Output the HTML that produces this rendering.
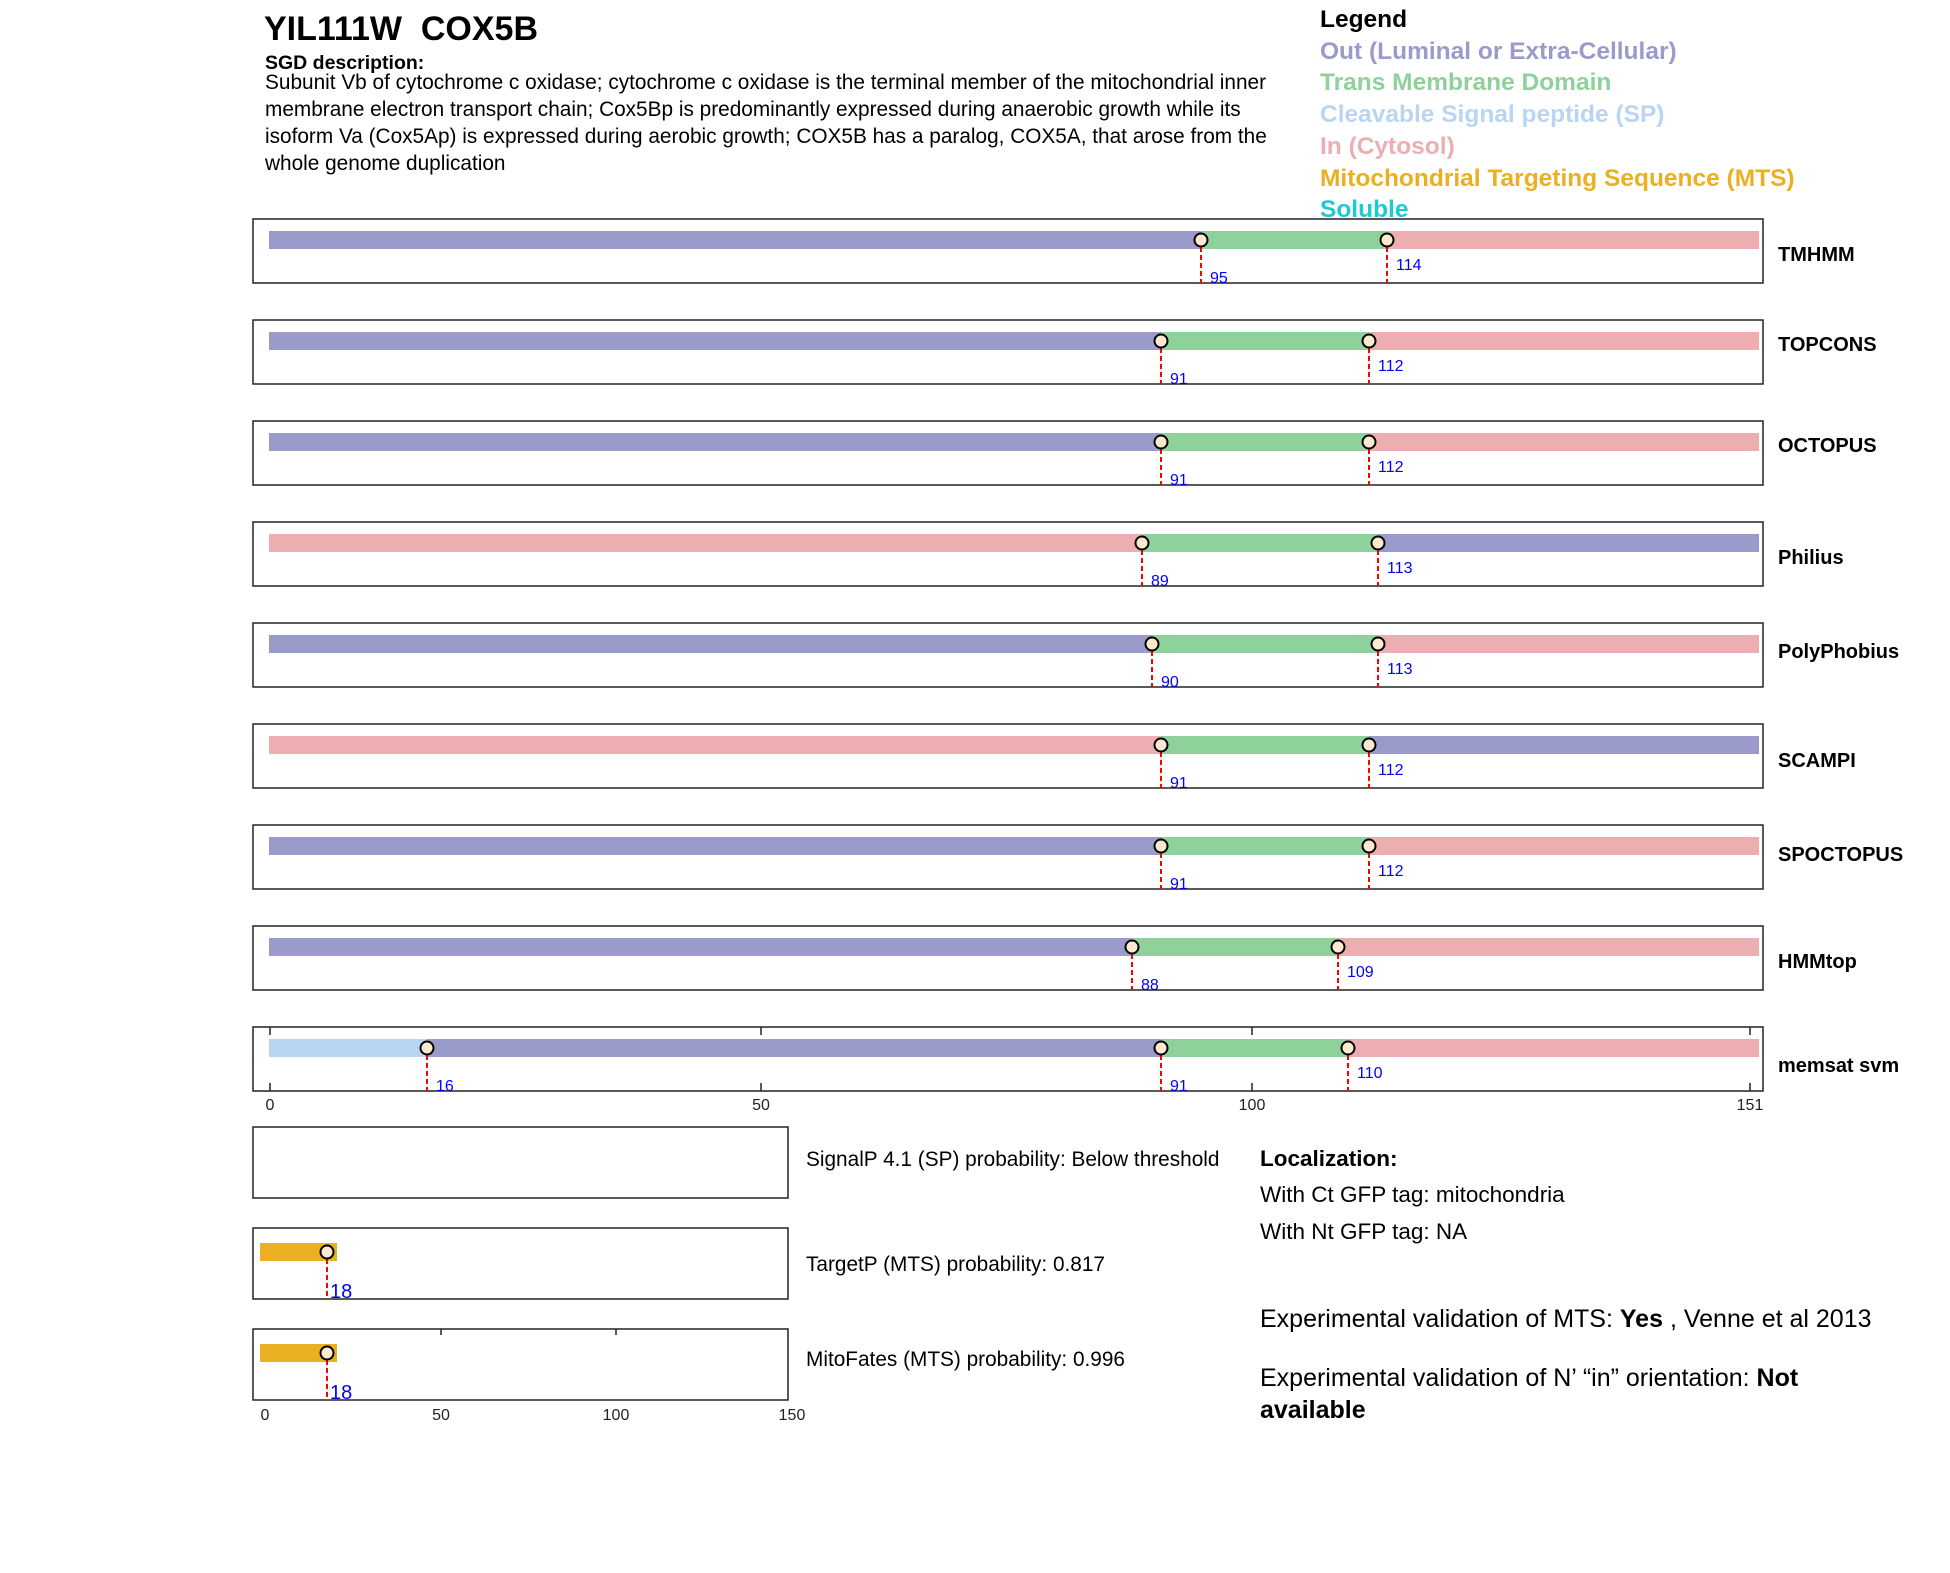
<!DOCTYPE html>
<html><head><meta charset="utf-8"><style>
html,body{margin:0;padding:0;background:#fff;}
svg{display:block;font-family:"Liberation Sans",Arial,sans-serif;}
</style></head><body>
<svg width="1950" height="1573" viewBox="0 0 1950 1573" xmlns="http://www.w3.org/2000/svg">
<rect width="1950" height="1573" fill="#fff"/>
<text x="264" y="40" font-size="34" font-weight="bold" style="white-space:pre">YIL111W  COX5B</text>
<text x="265" y="69" font-size="19.5" font-weight="bold">SGD description:</text>
<g font-size="20.8">
<text x="265" y="89">Subunit Vb of cytochrome c oxidase; cytochrome c oxidase is the terminal member of the mitochondrial inner</text>
<text x="265" y="116">membrane electron transport chain; Cox5Bp is predominantly expressed during anaerobic growth while its</text>
<text x="265" y="143">isoform Va (Cox5Ap) is expressed during aerobic growth; COX5B has a paralog, COX5A, that arose from the</text>
<text x="265" y="170">whole genome duplication</text>
</g>
<g font-size="24.5" font-weight="bold">
<text x="1320" y="27" fill="#000">Legend</text>
<text x="1320" y="59" fill="#9b9bcb">Out (Luminal or Extra-Cellular)</text>
<text x="1320" y="90" fill="#8fd19a">Trans Membrane Domain</text>
<text x="1320" y="122" fill="#b9d5f2">Cleavable Signal peptide (SP)</text>
<text x="1320" y="154" fill="#ecaeb0">In (Cytosol)</text>
<text x="1320" y="186" fill="#ebaf22">Mitochondrial Targeting Sequence (MTS)</text>
<text x="1320" y="217" fill="#1ec9d1">Soluble</text>
</g>

<g>
<rect x="253" y="219" width="1510" height="64" fill="none" stroke="#222" stroke-width="1.5"/>
<rect x="269" y="231" width="932" height="18" fill="#9b9bcb"/>
<rect x="1201" y="231" width="186" height="18" fill="#8fd19a"/>
<rect x="1387" y="231" width="372" height="18" fill="#ecaeb0"/>
<line x1="1201" y1="247" x2="1201" y2="283" stroke="red" stroke-width="2" stroke-dasharray="5,3"/>
<line x1="1387" y1="247" x2="1387" y2="283" stroke="red" stroke-width="2" stroke-dasharray="5,3"/>
<circle cx="1201" cy="240" r="6.5" fill="#fde9cf" stroke="#000" stroke-width="2"/>
<circle cx="1387" cy="240" r="6.5" fill="#fde9cf" stroke="#000" stroke-width="2"/>
<text x="1210" y="283" font-size="16" fill="#0000ff">95</text>
<text x="1396" y="270" font-size="16" fill="#0000ff">114</text>
<text x="1778" y="261" font-size="20" font-weight="bold">TMHMM</text>
</g>
<g>
<rect x="253" y="320" width="1510" height="64" fill="none" stroke="#222" stroke-width="1.5"/>
<rect x="269" y="332" width="892" height="18" fill="#9b9bcb"/>
<rect x="1161" y="332" width="208" height="18" fill="#8fd19a"/>
<rect x="1369" y="332" width="390" height="18" fill="#ecaeb0"/>
<line x1="1161" y1="348" x2="1161" y2="384" stroke="red" stroke-width="2" stroke-dasharray="5,3"/>
<line x1="1369" y1="348" x2="1369" y2="384" stroke="red" stroke-width="2" stroke-dasharray="5,3"/>
<circle cx="1161" cy="341" r="6.5" fill="#fde9cf" stroke="#000" stroke-width="2"/>
<circle cx="1369" cy="341" r="6.5" fill="#fde9cf" stroke="#000" stroke-width="2"/>
<text x="1170" y="384" font-size="16" fill="#0000ff">91</text>
<text x="1378" y="371" font-size="16" fill="#0000ff">112</text>
<text x="1778" y="351" font-size="20" font-weight="bold">TOPCONS</text>
</g>
<g>
<rect x="253" y="421" width="1510" height="64" fill="none" stroke="#222" stroke-width="1.5"/>
<rect x="269" y="433" width="892" height="18" fill="#9b9bcb"/>
<rect x="1161" y="433" width="208" height="18" fill="#8fd19a"/>
<rect x="1369" y="433" width="390" height="18" fill="#ecaeb0"/>
<line x1="1161" y1="449" x2="1161" y2="485" stroke="red" stroke-width="2" stroke-dasharray="5,3"/>
<line x1="1369" y1="449" x2="1369" y2="485" stroke="red" stroke-width="2" stroke-dasharray="5,3"/>
<circle cx="1161" cy="442" r="6.5" fill="#fde9cf" stroke="#000" stroke-width="2"/>
<circle cx="1369" cy="442" r="6.5" fill="#fde9cf" stroke="#000" stroke-width="2"/>
<text x="1170" y="485" font-size="16" fill="#0000ff">91</text>
<text x="1378" y="472" font-size="16" fill="#0000ff">112</text>
<text x="1778" y="452" font-size="20" font-weight="bold">OCTOPUS</text>
</g>
<g>
<rect x="253" y="522" width="1510" height="64" fill="none" stroke="#222" stroke-width="1.5"/>
<rect x="269" y="534" width="873" height="18" fill="#ecaeb0"/>
<rect x="1142" y="534" width="236" height="18" fill="#8fd19a"/>
<rect x="1378" y="534" width="381" height="18" fill="#9b9bcb"/>
<line x1="1142" y1="550" x2="1142" y2="586" stroke="red" stroke-width="2" stroke-dasharray="5,3"/>
<line x1="1378" y1="550" x2="1378" y2="586" stroke="red" stroke-width="2" stroke-dasharray="5,3"/>
<circle cx="1142" cy="543" r="6.5" fill="#fde9cf" stroke="#000" stroke-width="2"/>
<circle cx="1378" cy="543" r="6.5" fill="#fde9cf" stroke="#000" stroke-width="2"/>
<text x="1151" y="586" font-size="16" fill="#0000ff">89</text>
<text x="1387" y="573" font-size="16" fill="#0000ff">113</text>
<text x="1778" y="564" font-size="20" font-weight="bold">Philius</text>
</g>
<g>
<rect x="253" y="623" width="1510" height="64" fill="none" stroke="#222" stroke-width="1.5"/>
<rect x="269" y="635" width="883" height="18" fill="#9b9bcb"/>
<rect x="1152" y="635" width="226" height="18" fill="#8fd19a"/>
<rect x="1378" y="635" width="381" height="18" fill="#ecaeb0"/>
<line x1="1152" y1="651" x2="1152" y2="687" stroke="red" stroke-width="2" stroke-dasharray="5,3"/>
<line x1="1378" y1="651" x2="1378" y2="687" stroke="red" stroke-width="2" stroke-dasharray="5,3"/>
<circle cx="1152" cy="644" r="6.5" fill="#fde9cf" stroke="#000" stroke-width="2"/>
<circle cx="1378" cy="644" r="6.5" fill="#fde9cf" stroke="#000" stroke-width="2"/>
<text x="1161" y="687" font-size="16" fill="#0000ff">90</text>
<text x="1387" y="674" font-size="16" fill="#0000ff">113</text>
<text x="1778" y="658" font-size="20" font-weight="bold">PolyPhobius</text>
</g>
<g>
<rect x="253" y="724" width="1510" height="64" fill="none" stroke="#222" stroke-width="1.5"/>
<rect x="269" y="736" width="892" height="18" fill="#ecaeb0"/>
<rect x="1161" y="736" width="208" height="18" fill="#8fd19a"/>
<rect x="1369" y="736" width="390" height="18" fill="#9b9bcb"/>
<line x1="1161" y1="752" x2="1161" y2="788" stroke="red" stroke-width="2" stroke-dasharray="5,3"/>
<line x1="1369" y1="752" x2="1369" y2="788" stroke="red" stroke-width="2" stroke-dasharray="5,3"/>
<circle cx="1161" cy="745" r="6.5" fill="#fde9cf" stroke="#000" stroke-width="2"/>
<circle cx="1369" cy="745" r="6.5" fill="#fde9cf" stroke="#000" stroke-width="2"/>
<text x="1170" y="788" font-size="16" fill="#0000ff">91</text>
<text x="1378" y="775" font-size="16" fill="#0000ff">112</text>
<text x="1778" y="767" font-size="20" font-weight="bold">SCAMPI</text>
</g>
<g>
<rect x="253" y="825" width="1510" height="64" fill="none" stroke="#222" stroke-width="1.5"/>
<rect x="269" y="837" width="892" height="18" fill="#9b9bcb"/>
<rect x="1161" y="837" width="208" height="18" fill="#8fd19a"/>
<rect x="1369" y="837" width="390" height="18" fill="#ecaeb0"/>
<line x1="1161" y1="853" x2="1161" y2="889" stroke="red" stroke-width="2" stroke-dasharray="5,3"/>
<line x1="1369" y1="853" x2="1369" y2="889" stroke="red" stroke-width="2" stroke-dasharray="5,3"/>
<circle cx="1161" cy="846" r="6.5" fill="#fde9cf" stroke="#000" stroke-width="2"/>
<circle cx="1369" cy="846" r="6.5" fill="#fde9cf" stroke="#000" stroke-width="2"/>
<text x="1170" y="889" font-size="16" fill="#0000ff">91</text>
<text x="1378" y="876" font-size="16" fill="#0000ff">112</text>
<text x="1778" y="861" font-size="20" font-weight="bold">SPOCTOPUS</text>
</g>
<g>
<rect x="253" y="926" width="1510" height="64" fill="none" stroke="#222" stroke-width="1.5"/>
<rect x="269" y="938" width="863" height="18" fill="#9b9bcb"/>
<rect x="1132" y="938" width="206" height="18" fill="#8fd19a"/>
<rect x="1338" y="938" width="421" height="18" fill="#ecaeb0"/>
<line x1="1132" y1="954" x2="1132" y2="990" stroke="red" stroke-width="2" stroke-dasharray="5,3"/>
<line x1="1338" y1="954" x2="1338" y2="990" stroke="red" stroke-width="2" stroke-dasharray="5,3"/>
<circle cx="1132" cy="947" r="6.5" fill="#fde9cf" stroke="#000" stroke-width="2"/>
<circle cx="1338" cy="947" r="6.5" fill="#fde9cf" stroke="#000" stroke-width="2"/>
<text x="1141" y="990" font-size="16" fill="#0000ff">88</text>
<text x="1347" y="977" font-size="16" fill="#0000ff">109</text>
<text x="1778" y="968" font-size="20" font-weight="bold">HMMtop</text>
</g>
<g>
<rect x="253" y="1027" width="1510" height="64" fill="none" stroke="#222" stroke-width="1.5"/>
<rect x="269" y="1039" width="158" height="18" fill="#b9d5f2"/>
<rect x="427" y="1039" width="734" height="18" fill="#9b9bcb"/>
<rect x="1161" y="1039" width="187" height="18" fill="#8fd19a"/>
<rect x="1348" y="1039" width="411" height="18" fill="#ecaeb0"/>
<g stroke="#222" stroke-width="1.5">
<line x1="270" y1="1027" x2="270" y2="1035"/><line x1="270" y1="1091" x2="270" y2="1083"/>
<line x1="761" y1="1027" x2="761" y2="1035"/><line x1="761" y1="1091" x2="761" y2="1083"/>
<line x1="1252" y1="1027" x2="1252" y2="1035"/><line x1="1252" y1="1091" x2="1252" y2="1083"/>
<line x1="1750" y1="1027" x2="1750" y2="1035"/><line x1="1750" y1="1091" x2="1750" y2="1083"/>
</g>
<line x1="427" y1="1055" x2="427" y2="1091" stroke="red" stroke-width="2" stroke-dasharray="5,3"/>
<line x1="1161" y1="1055" x2="1161" y2="1091" stroke="red" stroke-width="2" stroke-dasharray="5,3"/>
<line x1="1348" y1="1055" x2="1348" y2="1091" stroke="red" stroke-width="2" stroke-dasharray="5,3"/>
<circle cx="427" cy="1048" r="6.5" fill="#fde9cf" stroke="#000" stroke-width="2"/>
<circle cx="1161" cy="1048" r="6.5" fill="#fde9cf" stroke="#000" stroke-width="2"/>
<circle cx="1348" cy="1048" r="6.5" fill="#fde9cf" stroke="#000" stroke-width="2"/>
<text x="436" y="1091" font-size="16" fill="#0000ff">16</text>
<text x="1170" y="1091" font-size="16" fill="#0000ff">91</text>
<text x="1357" y="1078" font-size="16" fill="#0000ff">110</text>
<text x="1778" y="1072" font-size="20" font-weight="bold">memsat svm</text>
<g font-size="16" fill="#222" text-anchor="middle">
<text x="270" y="1110">0</text><text x="761" y="1110">50</text><text x="1252" y="1110">100</text><text x="1750" y="1110">151</text>
</g>
</g>

<rect x="253" y="1127" width="535" height="71" fill="none" stroke="#222" stroke-width="1.5"/>
<text x="806" y="1166" font-size="20.8">SignalP 4.1 (SP) probability: Below threshold</text>

<rect x="253" y="1228" width="535" height="71" fill="none" stroke="#222" stroke-width="1.5"/>
<rect x="260" y="1243" width="77" height="18" fill="#ebaf22"/>
<line x1="327" y1="1259" x2="327" y2="1299" stroke="red" stroke-width="2" stroke-dasharray="5,3"/>
<circle cx="327" cy="1252" r="6.5" fill="#fde9cf" stroke="#000" stroke-width="2"/>
<text x="330" y="1298" font-size="20" fill="#0000ff">18</text>
<text x="806" y="1271" font-size="20.8">TargetP (MTS) probability: 0.817</text>

<rect x="253" y="1329" width="535" height="71" fill="none" stroke="#222" stroke-width="1.5"/>
<rect x="260" y="1344" width="77" height="18" fill="#ebaf22"/>
<line x1="327" y1="1360" x2="327" y2="1400" stroke="red" stroke-width="2" stroke-dasharray="5,3"/>
<circle cx="327" cy="1353" r="6.5" fill="#fde9cf" stroke="#000" stroke-width="2"/>
<text x="330" y="1399" font-size="20" fill="#0000ff">18</text>
<g stroke="#222" stroke-width="1.5">
<line x1="441" y1="1329" x2="441" y2="1335"/><line x1="616" y1="1329" x2="616" y2="1335"/>
</g>
<g font-size="16" fill="#222" text-anchor="middle">
<text x="265" y="1420">0</text><text x="441" y="1420">50</text><text x="616" y="1420">100</text><text x="792" y="1420">150</text>
</g>
<text x="806" y="1366" font-size="20.8">MitoFates (MTS) probability: 0.996</text>

<text x="1260" y="1166" font-size="22.5" font-weight="bold">Localization:</text>
<text x="1260" y="1202" font-size="22.5">With Ct GFP tag: mitochondria</text>
<text x="1260" y="1239" font-size="22.5">With Nt GFP tag: NA</text>
<text x="1260" y="1327" font-size="25">Experimental validation of MTS: <tspan font-weight="bold">Yes</tspan> , Venne et al 2013</text>
<text x="1260" y="1386" font-size="25">Experimental validation of N’ “in” orientation: <tspan font-weight="bold">Not</tspan></text>
<text x="1260" y="1418" font-size="25" font-weight="bold">available</text>
</svg>
</body></html>
